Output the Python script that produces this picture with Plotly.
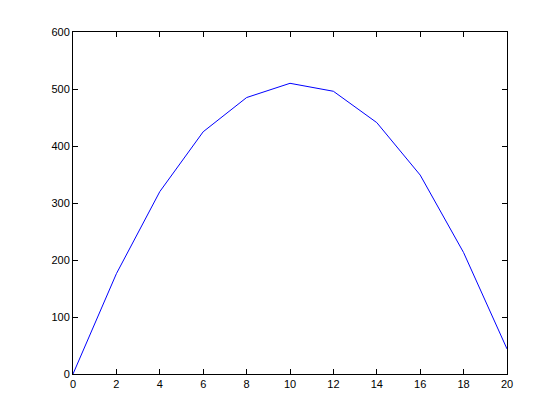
import plotly.graph_objects as go

x_vals = [0, 2, 4, 6, 8, 10, 12, 14, 16, 18, 20]
y_vals = [0, 176, 320, 425, 485, 510, 496, 441, 349, 213, 44]

fig = go.Figure()
fig.add_trace(go.Scatter(x=x_vals, y=y_vals, mode="lines",
                         line=dict(color="#0000ff", width=1)))

axis_common = dict(
    showgrid=False, zeroline=False, showline=True, linecolor="black", linewidth=1,
    mirror="allticks", ticks="inside", ticklen=5, tickcolor="black", tickwidth=1,
    tickfont=dict(family="Liberation Sans, Arial, sans-serif", size=11, color="black"),
)
fig.update_xaxes(range=[0, 20], tickmode="array", tickvals=list(range(0, 21, 2)),
                 ticktext=[str(v) for v in range(0, 21, 2)], **axis_common)
fig.update_yaxes(range=[0, 600], tickmode="array", tickvals=list(range(0, 601, 100)),
                 ticktext=[str(v) for v in range(0, 601, 100)], **axis_common)

# page body has an 8px default margin; compensate so the axes box lands at 73..507 x 32..374
fig.update_layout(
    width=560, height=420,
    margin=dict(l=65, r=61, t=24, b=54),
    paper_bgcolor="white", plot_bgcolor="white",
    showlegend=False,
)
fig.write_html("out.html")
